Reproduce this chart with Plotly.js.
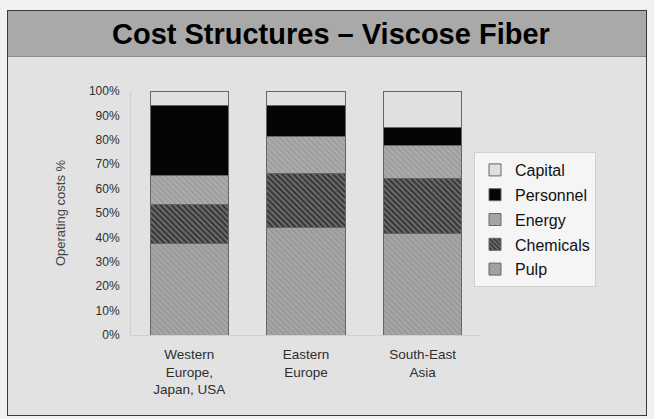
<!DOCTYPE html>
<html>
<head>
<meta charset="utf-8">
<script src="https://cdn.plot.ly/plotly-3.0.1.min.js"></script>
<style>
  html, body { margin: 0; padding: 0; background: #f1f1f1; }
  #wrap { position: relative; width: 654px; height: 419px; overflow: hidden; background: #f1f1f1; }
  #frame { position: absolute; left: 7px; top: 10px; width: 638px; height: 404px;
           background: #e2e2e2; border: 1.5px solid #3a3a3a; }
  #band { position: absolute; left: 8px; top: 11px; width: 638px; height: 45px;
          background: #a9a9a9; border-bottom: 1px solid #8a8a8a; }
  #chart { position: absolute; left: 0; top: 0; width: 654px; height: 419px; }
</style>
</head>
<body>
<div id="wrap">
  <div id="frame"></div>
  <div id="band"></div>
  <div id="chart"></div>
</div>
<script>
// Regions on the x axis
const regions = ['Western<br>Europe,<br>Japan, USA', 'Eastern<br>Europe', 'South-East<br>Asia'];

// Share of operating costs per region, in percent
const pulp      = [37.5, 44.0, 41.5];
const chemicals = [16.0, 22.0, 22.5];
const energy    = [12.0, 15.5, 13.5];
const personnel = [28.5, 12.5,  7.5];
const capital   = [ 6.0,  6.0, 15.0];

const FONT = 'Liberation Sans, Arial, Helvetica, sans-serif';
const edge = { color: '#666666', width: 1 };

// one stacked layer; rank puts the top layer first in the legend
function layer(name, values, pattern, rank) {
  return {
    type: 'bar',
    name: name,
    x: regions,
    y: values,
    legendgroup: 'g' + rank,
    legendrank: rank,
    marker: { color: pattern.bgcolor, line: edge, pattern: pattern },
    hoverinfo: 'skip'
  };
}

const data = [
  layer('Pulp', pulp, { shape: '\\', bgcolor: '#a6a6a6', fgcolor: '#939393', size: 4, solidity: 0.3 }, 5),
  layer('Chemicals', chemicals, { shape: '\\', bgcolor: '#6c6c6c', fgcolor: '#2e2e2e', size: 4, solidity: 0.45 }, 4),
  layer('Energy', energy, { shape: '\\', bgcolor: '#ababab', fgcolor: '#979797', size: 4, solidity: 0.3 }, 3),
  layer('Personnel', personnel, { shape: '', bgcolor: '#050505' }, 2),
  layer('Capital', capital, { shape: '', bgcolor: '#e0e0e0' }, 1)
];

const layout = {
  width: 654,
  height: 419,
  margin: { l: 131, r: 173, t: 91, b: 84, pad: 0 },
  paper_bgcolor: 'rgba(0,0,0,0)',
  plot_bgcolor: 'rgba(0,0,0,0)',
  barmode: 'stack',
  bargap: 0.33,
  showlegend: true,
  title: {
    text: 'Cost Structures – Viscose Fiber',
    font: { family: FONT, size: 29, color: '#000000', weight: 700 },
    xref: 'container', x: 0.506, xanchor: 'center',
    yref: 'container', y: 0.919, yanchor: 'middle'
  },
  xaxis: {
    type: 'category',
    range: [-0.5, 2.5],
    showline: true, linecolor: '#cfcfcf', linewidth: 1,
    showgrid: false, zeroline: false,
    ticks: '',
    ticklabelstandoff: 7,
    tickfont: { family: FONT, size: 13.5, color: '#2e2e2e' }
  },
  yaxis: {
    range: [0, 100],
    dtick: 10,
    ticksuffix: '%',
    showline: true, linecolor: '#cfcfcf', linewidth: 1,
    showgrid: false, zeroline: false,
    ticks: '',
    ticklabelstandoff: 8,
    tickfont: { family: FONT, size: 12, color: '#2e2e2e' },
    title: {
      text: 'Operating costs %',
      font: { family: FONT, size: 13, color: '#444444' },
      standoff: 20
    }
  },
  legend: {
    x: 0.98, xanchor: 'left',
    y: 0.75, yanchor: 'top',
    traceorder: 'grouped',
    tracegroupgap: 1,
    bgcolor: '#f5f5f5',
    bordercolor: '#d0d0d0',
    borderwidth: 1,
    itemwidth: 30,
    font: { family: FONT, size: 16, color: '#111111' }
  }
};

Plotly.newPlot('chart', data, layout, { staticPlot: true, displayModeBar: false });
</script>
</body>
</html>
